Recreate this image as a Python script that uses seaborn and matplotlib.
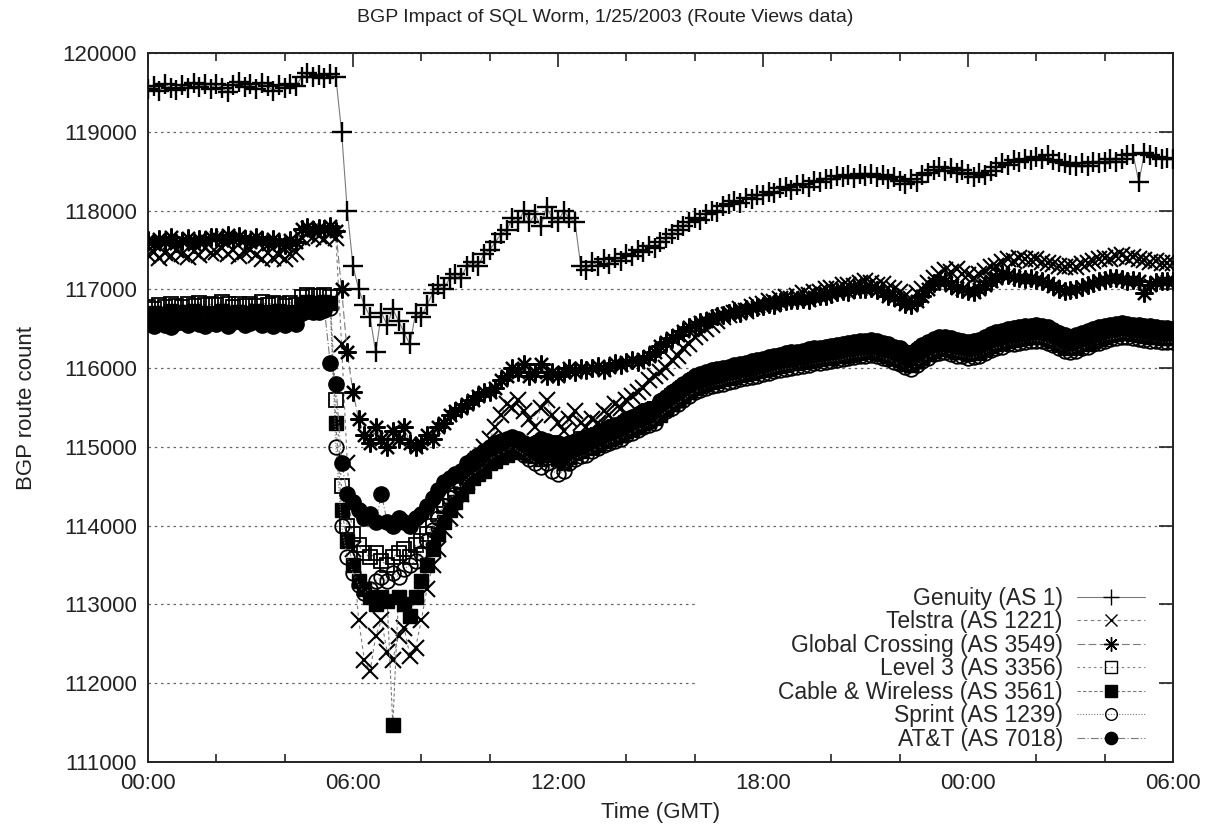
import numpy as np
import pandas as pd
import matplotlib
matplotlib.use("Agg")
import matplotlib.pyplot as plt
from matplotlib.patches import Rectangle
from matplotlib.ticker import MultipleLocator
import seaborn as sns

# one sample every 10 minutes, 00:00 (1/25) .. 06:00 (1/26), in hours
hours = np.linspace(0, 30, 181)

xtick_pos = [0, 6, 12, 18, 24, 30]
xtick_labels = ["00:00", "06:00", "12:00", "18:00", "00:00", "06:00"]

# one row per hour (values at :00 :10 :20 :30 :40 :50)
genuity = [
    119540, 119580, 119520, 119600, 119560, 119530,
    119590, 119550, 119620, 119570, 119600, 119540,
    119610, 119560, 119500, 119590, 119630, 119570,
    119600, 119540, 119620, 119580, 119520, 119590,
    119560, 119610, 119580, 119700, 119740, 119690,
    119720, 119680, 119730, 119690, 119000, 118000,
    117300, 117000, 116800, 116650, 116200, 116700,
    116550, 116750, 116600, 116450, 116300, 116700,
    116650, 116800, 116950, 117050, 117000, 117150,
    117200, 117150, 117300, 117350, 117300, 117450,
    117500, 117600, 117700, 117750, 117900, 117850,
    118000, 117850, 117950, 117800, 118050, 117900,
    117850, 118000, 117900, 117850, 117300, 117250,
    117350, 117300, 117380, 117320, 117400, 117360,
    117450, 117420, 117500, 117480, 117550, 117520,
    117600, 117650, 117700, 117750, 117800, 117850,
    117900, 117880, 117950, 118000, 117980, 118060,
    118080, 118120, 118100, 118160, 118150, 118200,
    118200, 118240, 118220, 118280, 118300, 118260,
    118320, 118340, 118300, 118380, 118360, 118400,
    118400, 118440, 118420, 118450, 118410, 118460,
    118440, 118470, 118430, 118450, 118400, 118420,
    118380, 118340, 118400, 118360, 118450, 118480,
    118520, 118550, 118500, 118540, 118480, 118510,
    118460, 118430, 118480, 118450, 118500, 118550,
    118600, 118580, 118640, 118620, 118660, 118640,
    118680, 118650, 118700, 118640, 118620, 118600,
    118580, 118560, 118600, 118570, 118620, 118600,
    118620, 118650, 118610, 118660, 118700, 118720,
    118360, 118730, 118700, 118680, 118650, 118670,
    118650]

telstra = [
    117430, 117480, 117400, 117460, 117420, 117500,
    117450, 117410, 117490, 117440, 117520, 117460,
    117480, 117530, 117450, 117500, 117420, 117470,
    117500, 117440, 117380, 117460, 117400, 117430,
    117380, 117450, 117480, 117650, 117700, 117660,
    117680, 117640, 117700, 117650, 116300, 114800,
    113700, 112800, 112300, 112150, 112600, 112800,
    112400, 112300, 112600, 112700, 112350, 112450,
    112800, 113200, 113500, 113700, 113950, 114100,
    114200, 114400, 114550, 114700, 114850, 115000,
    115100, 115250, 115400, 115550, 115500, 115600,
    115450, 115350, 115250, 115500, 115600, 115400,
    115300, 115200, 115350, 115450, 115300, 115250,
    115350, 115300, 115450, 115400, 115550, 115500,
    115600, 115650, 115700, 115750, 115850, 115900,
    115950, 116000, 116100, 116150, 116250, 116300,
    116400, 116450, 116500, 116550, 116600, 116650,
    116680, 116700, 116750, 116730, 116780, 116800,
    116820, 116850, 116840, 116880, 116900, 116880,
    116920, 116950, 116930, 116970, 116960, 117000,
    117020, 117000, 117050, 117060, 117040, 117080,
    117100, 117080, 117050, 117070, 117020, 117000,
    116960, 116920, 116880, 116950, 117000, 117080,
    117150, 117200, 117250, 117220, 117260, 117200,
    117180, 117150, 117200, 117230, 117280, 117300,
    117350, 117380, 117360, 117400, 117380, 117370,
    117380, 117350, 117340, 117320, 117300, 117280,
    117300, 117280, 117320, 117340, 117360, 117380,
    117400, 117380, 117420, 117430, 117400, 117410,
    117390, 117370, 117350, 117360, 117340, 117330,
    117330]

global_crossing = [
    117620, 117580, 117640, 117600, 117660, 117590,
    117610, 117650, 117580, 117640, 117620, 117670,
    117660, 117620, 117690, 117630, 117680, 117640,
    117600, 117660, 117620, 117580, 117640, 117590,
    117560, 117620, 117600, 117760, 117790, 117750,
    117780, 117760, 117800, 117740, 117000, 116200,
    115700, 115350, 115150, 115050, 115250, 115100,
    115000, 115200, 115100, 115250, 115050, 115000,
    115050, 115150, 115100, 115250, 115300, 115400,
    115450, 115500, 115550, 115600, 115650, 115700,
    115700, 115750, 115850, 115900, 116000, 115950,
    116050, 115900, 115950, 116050, 115900, 115950,
    115900, 115950, 116000, 115950, 116000, 115980,
    116000, 116030, 115980, 116020, 116060, 116040,
    116080, 116100, 116080, 116120, 116150, 116200,
    116280, 116330, 116380, 116420, 116470, 116520,
    116550, 116580, 116600, 116640, 116660, 116680,
    116700, 116720, 116700, 116750, 116760, 116780,
    116790, 116810, 116800, 116840, 116850, 116860,
    116860, 116880, 116870, 116900, 116910, 116920,
    116940, 116960, 116980, 116970, 117000, 117010,
    117000, 117020, 116990, 116960, 116920, 116900,
    116860, 116820, 116800, 116850, 116920, 117000,
    117080, 117110, 117100, 117060, 117020, 117000,
    116980, 116960, 117000, 117050, 117100, 117150,
    117200, 117180, 117160, 117150, 117130, 117140,
    117120, 117100, 117080, 117040, 117000, 116980,
    116990, 117000, 117030, 117060, 117080, 117100,
    117120, 117140, 117150, 117130, 117110, 117120,
    117100, 116950, 117060, 117090, 117110, 117100,
    117100]

level3 = [
    116780, 116750, 116800, 116770, 116810, 116790,
    116780, 116820, 116790, 116830, 116800, 116810,
    116800, 116840, 116810, 116780, 116820, 116790,
    116820, 116790, 116840, 116800, 116830, 116810,
    116790, 116830, 116800, 116900, 116930, 116910,
    116910, 116930, 116900, 115600, 114500, 114000,
    113900, 113750, 113650, 113600, 113650, 113550,
    113500, 113600, 113650, 113700, 113600, 113750,
    113800, 113900, 114000, 114150, 114250, 114350,
    114450, 114550, 114600, 114700, 114750, 114800,
    114900, 114950, 114900, 115000, 115050, 115000,
    115000, 114950, 115000, 115050, 114980, 115050,
    115000, 114950, 115030, 115050, 115100, 115080,
    115100, 115150, 115180, 115200, 115250, 115270,
    115300, 115330, 115370, 115400, 115450, 115480,
    115500, 115580, 115650, 115700, 115750, 115790,
    115850, 115860, 115880, 115900, 115930, 115950,
    115980, 115990, 116000, 116030, 116040, 116060,
    116080, 116090, 116110, 116130, 116140, 116160,
    116160, 116180, 116190, 116200, 116220, 116230,
    116230, 116250, 116260, 116270, 116290, 116300,
    116300, 116310, 116290, 116280, 116260, 116230,
    116200, 116160, 116140, 116190, 116240, 116280,
    116320, 116340, 116350, 116320, 116310, 116300,
    116280, 116290, 116310, 116340, 116380, 116410,
    116420, 116450, 116460, 116470, 116480, 116490,
    116500, 116490, 116470, 116440, 116400, 116370,
    116350, 116370, 116400, 116420, 116450, 116470,
    116480, 116500, 116510, 116520, 116510, 116500,
    116500, 116490, 116480, 116470, 116460, 116460,
    116450]

cable_wireless = [
    116680, 116700, 116650, 116690, 116720, 116670,
    116710, 116680, 116730, 116700, 116660, 116700,
    116690, 116720, 116700, 116670, 116710, 116690,
    116700, 116730, 116690, 116710, 116680, 116720,
    116680, 116710, 116690, 116820, 116840, 116830,
    116820, 116840, 116830, 115300, 114200, 113800,
    113500, 113300, 113200, 113100, 113000, 113100,
    113050, 111470, 113100, 113000, 112850, 113100,
    113300, 113500, 113700, 113900, 114050, 114200,
    114300, 114400, 114500, 114600, 114650, 114700,
    114800, 114820, 114870, 114900, 114950, 114930,
    114950, 114900, 114880, 114850, 114900, 114920,
    114850, 114800, 114870, 114920, 114950, 114980,
    115000, 115030, 115070, 115100, 115130, 115160,
    115200, 115230, 115270, 115300, 115330, 115370,
    115400, 115480, 115550, 115600, 115650, 115700,
    115750, 115770, 115800, 115820, 115840, 115860,
    115880, 115890, 115910, 115930, 115940, 115960,
    115980, 115990, 116010, 116030, 116040, 116060,
    116060, 116080, 116090, 116100, 116120, 116130,
    116130, 116150, 116160, 116170, 116180, 116190,
    116200, 116210, 116190, 116180, 116160, 116130,
    116100, 116060, 116040, 116090, 116140, 116180,
    116220, 116240, 116250, 116230, 116210, 116200,
    116180, 116190, 116210, 116240, 116280, 116310,
    116320, 116350, 116360, 116370, 116380, 116390,
    116400, 116390, 116370, 116340, 116300, 116270,
    116250, 116270, 116300, 116320, 116350, 116370,
    116400, 116420, 116430, 116450, 116440, 116430,
    116420, 116410, 116400, 116390, 116380, 116380,
    116380]

sprint = [
    116620, 116590, 116640, 116610, 116600, 116630,
    116640, 116610, 116650, 116620, 116660, 116630,
    116620, 116650, 116630, 116600, 116640, 116610,
    116630, 116660, 116620, 116650, 116610, 116640,
    116610, 116640, 116620, 116750, 116770, 116760,
    116750, 116770, 116760, 115000, 114000, 113600,
    113400, 113250, 113150, 113200, 113300, 113350,
    113300, 113400, 113350, 113450, 113500, 113550,
    113650, 113800, 113950, 114100, 114250, 114350,
    114400, 114500, 114600, 114650, 114700, 114750,
    114850, 114880, 114920, 114950, 115000, 114950,
    114900, 114850, 114800, 114750, 114800, 114700,
    114650, 114700, 114800, 114850, 114880, 114900,
    114950, 114980, 115020, 115050, 115080, 115100,
    115150, 115180, 115220, 115250, 115280, 115300,
    115400, 115450, 115500, 115550, 115600, 115650,
    115700, 115720, 115750, 115770, 115790, 115800,
    115830, 115840, 115860, 115880, 115890, 115900,
    115930, 115940, 115960, 115980, 115990, 116000,
    116020, 116030, 116040, 116060, 116070, 116080,
    116090, 116100, 116110, 116130, 116140, 116150,
    116160, 116170, 116150, 116130, 116110, 116080,
    116050, 116010, 115990, 116040, 116090, 116130,
    116180, 116190, 116200, 116180, 116160, 116150,
    116130, 116140, 116160, 116190, 116230, 116260,
    116270, 116300, 116310, 116320, 116330, 116340,
    116350, 116340, 116320, 116290, 116250, 116220,
    116200, 116220, 116250, 116270, 116300, 116320,
    116350, 116370, 116380, 116400, 116390, 116380,
    116370, 116360, 116350, 116340, 116330, 116330,
    116330]

att = [
    116560, 116530, 116580, 116550, 116520, 116570,
    116580, 116550, 116600, 116560, 116530, 116580,
    116560, 116590, 116540, 116580, 116600, 116550,
    116570, 116600, 116550, 116590, 116540, 116580,
    116550, 116590, 116560, 116700, 116730, 116710,
    116710, 116740, 116066, 115800, 114800, 114400,
    114300, 114200, 114100, 114150, 114050, 114400,
    114050, 114000, 114100, 114050, 114000, 114100,
    114150, 114250, 114350, 114450, 114550, 114600,
    114650, 114700, 114800, 114850, 114900, 114950,
    115000, 115050, 115080, 115100, 115120, 115100,
    115050, 115000, 115050, 115100, 115080, 115050,
    115050, 115000, 115050, 115080, 115100, 115120,
    115150, 115180, 115220, 115250, 115280, 115300,
    115350, 115380, 115420, 115450, 115480, 115500,
    115580, 115630, 115700, 115750, 115800, 115850,
    115900, 115920, 115950, 115970, 115990, 116000,
    116020, 116040, 116050, 116070, 116090, 116100,
    116120, 116140, 116150, 116170, 116190, 116200,
    116210, 116220, 116240, 116250, 116260, 116270,
    116280, 116290, 116300, 116320, 116330, 116340,
    116350, 116360, 116340, 116320, 116300, 116270,
    116250, 116210, 116190, 116240, 116290, 116330,
    116370, 116390, 116400, 116380, 116360, 116350,
    116330, 116340, 116360, 116390, 116430, 116460,
    116470, 116500, 116510, 116520, 116530, 116540,
    116550, 116540, 116520, 116490, 116450, 116420,
    116400, 116420, 116450, 116470, 116500, 116520,
    116530, 116550, 116560, 116570, 116560, 116550,
    116550, 116540, 116530, 116520, 116510, 116510,
    116500]

series_names = ["Genuity (AS 1)", "Telstra (AS 1221)", "Global Crossing (AS 3549)",
                "Level 3 (AS 3356)", "Cable & Wireless (AS 3561)", "Sprint (AS 1239)",
                "AT&T (AS 7018)"]
series_values = [genuity, telstra, global_crossing, level3, cable_wireless, sprint, att]

# gnuplot-like point / line types
styles = [
    dict(marker="+", ms=14, mew=1.7, mfc="black", ls="-"),
    dict(marker="x", ms=11, mew=1.5, mfc="black", ls=(0, (3, 3))),
    dict(marker=(8, 2, 0), ms=13, mew=1.6, mfc="black", ls=(0, (7, 3))),
    dict(marker="s", ms=10, mew=1.3, mfc="none", ls=(0, (2, 3))),
    dict(marker="s", ms=10, mew=1.0, mfc="black", ls=(0, (3, 2))),
    dict(marker="o", ms=10.5, mew=1.3, mfc="none", ls=(0, (1, 1.5))),
    dict(marker="o", ms=11, mew=1.0, mfc="black", ls=(0, (7, 2, 1, 2))),
]

sns.set_style("white")
plt.rcParams["font.family"] = ["Liberation Sans", "DejaVu Sans"]

fig = plt.figure(figsize=(12.05, 8.33), dpi=100)
ax = fig.add_axes([0.1228, 0.0852, 0.8506, 0.8512])

for name, vals, st in zip(series_names, series_values, styles):
    df = pd.DataFrame({"t": hours, "routes": vals})
    sns.lineplot(data=df, x="t", y="routes", ax=ax, label=name,
                 color="#7a7a7a", lw=0.8, linestyle=st["ls"],
                 marker=st["marker"], markersize=st["ms"], markeredgewidth=st["mew"],
                 markeredgecolor="black", markerfacecolor=st["mfc"], zorder=3)

ax.set_xlim(0, 30)
ax.set_ylim(111000, 120000)
ax.set_xticks(xtick_pos)
ax.set_xticklabels(xtick_labels)
ax.xaxis.set_minor_locator(MultipleLocator(2))
ax.set_yticks(range(111000, 120001, 1000))
ax.yaxis.grid(True, color="#666666", linestyle=(0, (2, 3)), linewidth=0.9)
ax.xaxis.grid(False)

ax.tick_params(which="major", direction="in", length=10, width=1.2, top=True, right=True,
               labelsize=16, pad=8, colors="#222222")
ax.tick_params(which="minor", direction="in", length=6, width=1.2, top=True, bottom=True)
for s in ax.spines.values():
    s.set_color("#222222")
    s.set_linewidth(1.4)

# key area hides the grid behind it (as gnuplot does)
ax.add_patch(Rectangle((16 / 30, 0.016), 14 / 30 - 0.014, 0.235, transform=ax.transAxes,
                       facecolor="white", edgecolor="none", zorder=1))

ax.set_title("BGP Impact of SQL Worm, 1/25/2003 (Route Views data)", fontsize=14, pad=22,
             x=0.446, color="#222222")
ax.set_xlabel("Time (GMT)", fontsize=16, labelpad=6, color="#222222")
ax.set_ylabel("BGP route count", fontsize=16, labelpad=18, color="#222222")

# legend: smaller markers than the data points, like the gnuplot key
handles, labels = ax.get_legend_handles_labels()
leg = ax.legend(handles, labels, loc="lower right", bbox_to_anchor=(0.973, 0.016),
                markerfirst=False, frameon=False, fontsize=16.5, handlelength=3.0,
                handletextpad=0.6, labelspacing=0.02, borderpad=0, borderaxespad=0)
for h in leg.legend_handles:
    h.set_markersize(h.get_markersize() * 0.8)
    h.set_markeredgewidth(1.0)

fig.savefig("out.png", dpi=100)
